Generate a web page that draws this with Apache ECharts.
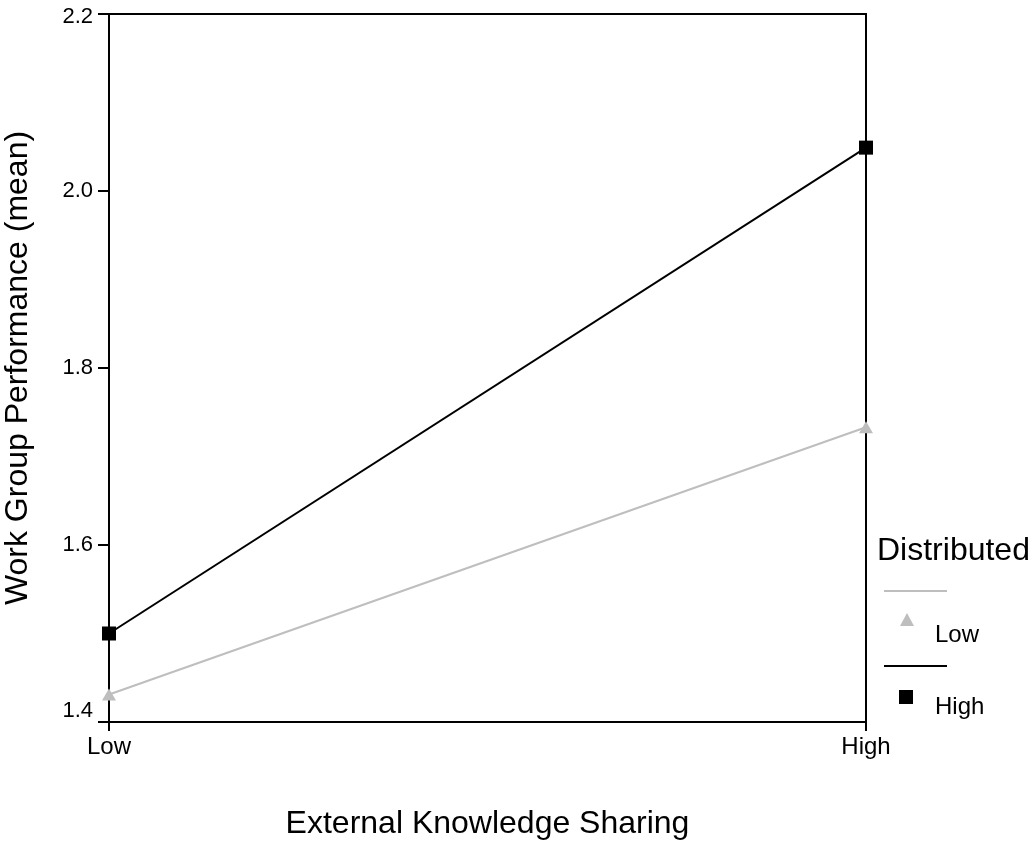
<!DOCTYPE html>
<html><head><meta charset="utf-8">
<script src="https://cdn.jsdelivr.net/npm/echarts@6/dist/echarts.min.js"></script>
<style>html,body{margin:0;padding:0;background:#fff}#c{width:1030px;height:846px}</style>
</head><body><div id="c"></div>
<script>
const categories = ['Low', 'High'];
const lowDistributed = [1.431, 1.733];
const highDistributed = [1.500, 2.049];
const yTicks = [1.4, 1.6, 1.8, 2.0, 2.2];

const chart = echarts.init(document.getElementById('c'));
const F = 'Liberation Sans, Arial, sans-serif';
const lbl = {color: '#000', fontFamily: F, fontSize: 22};
chart.setOption({
  animation: false,
  grid: {left: 109, right: 164, top: 14, bottom: 124, show: true, borderColor: '#000', borderWidth: 2,
         containLabel: false, outerBoundsMode: 'none'},
  xAxis: {
    type: 'category', data: categories, boundaryGap: false,
    axisLine: {lineStyle: {color: '#000', width: 2}},
    axisTick: {show: true, length: 9, lineStyle: {color: '#000', width: 2}},
    axisLabel: {color: '#000', fontFamily: F, fontSize: 24, margin: 13},
    name: 'External Knowledge Sharing', nameLocation: 'middle', nameGap: 86,
    nameTextStyle: {color: '#000', fontFamily: F, fontSize: 32}
  },
  yAxis: {
    type: 'value', min: yTicks[0], max: yTicks[yTicks.length - 1], interval: 0.2,
    axisLine: {show: true, lineStyle: {color: '#000', width: 2}},
    axisTick: {show: true, length: 11, lineStyle: {color: '#000', width: 2}},
    splitLine: {show: false},
    axisLabel: {color: '#000', fontFamily: F, fontSize: 22, margin: 16,
      formatter: v => {
        const s = v.toFixed(1);
        if (Math.abs(v - yTicks[0]) < 1e-9) return '{bot|' + s + '}';
        if (Math.abs(v - yTicks[yTicks.length - 1]) < 1e-9) return '{top|' + s + '}';
        return s;
      },
      rich: {
        bot: Object.assign({padding: [0, 0, 22, 0]}, lbl),
        top: Object.assign({padding: [6, 0, 0, 0]}, lbl)
      }},
    name: 'Work Group Performance (mean)', nameLocation: 'middle', nameGap: 75,
    nameTextStyle: {color: '#000', fontFamily: F, fontSize: 32}
  },
  series: [
    {name: 'Low', type: 'line', data: lowDistributed, symbol: 'triangle', symbolSize: [14, 12],
     lineStyle: {color: '#bebebe', width: 2}, itemStyle: {color: '#bebebe'}},
    {name: 'High', type: 'line', data: highDistributed, symbol: 'rect', symbolSize: 14,
     lineStyle: {color: '#000', width: 2}, itemStyle: {color: '#000'}}
  ],
  graphic: [
    {type: 'text', x: 877, y: 551, style: {text: 'Distributed', font: '32px Liberation Sans, Arial', fill: '#000', textVerticalAlign: 'middle', verticalAlign: 'middle'}},
    {type: 'line', shape: {x1: 884, y1: 591, x2: 947, y2: 591}, style: {stroke: '#bebebe', lineWidth: 2}},
    {type: 'polygon', shape: {points: [[907, 613], [914, 626], [900, 626]]}, style: {fill: '#bebebe'}},
    {type: 'text', x: 935, y: 635, style: {text: 'Low', font: '24px Liberation Sans, Arial', fill: '#000', textVerticalAlign: 'middle', verticalAlign: 'middle'}},
    {type: 'line', shape: {x1: 884, y1: 666, x2: 947, y2: 666}, style: {stroke: '#000', lineWidth: 2}},
    {type: 'rect', shape: {x: 899, y: 690, width: 14, height: 14}, style: {fill: '#000'}},
    {type: 'text', x: 935, y: 707, style: {text: 'High', font: '24px Liberation Sans, Arial', fill: '#000', textVerticalAlign: 'middle', verticalAlign: 'middle'}}
  ]
});
</script></body></html>
